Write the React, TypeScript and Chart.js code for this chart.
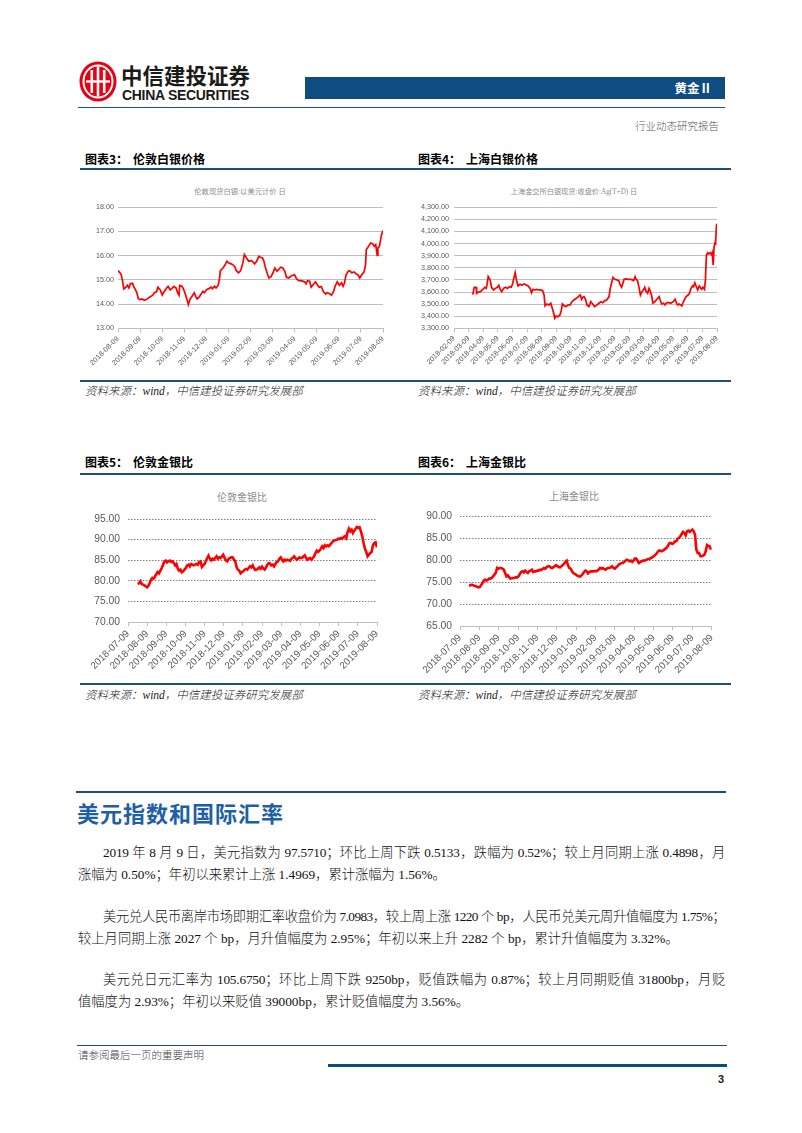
import React, { useEffect, useRef } from "react";
import { Chart, registerables } from "chart.js";

Chart.register(...registerables);

// ---------- 图表3 伦敦白银价格 (days since 2018-08-09) ----------
const ldnSilverTicks = ["2018-08-09","2018-09-09","2018-10-09","2018-11-09","2018-12-09","2019-01-09","2019-02-09","2019-03-09","2019-04-09","2019-05-09","2019-06-09","2019-07-09","2019-08-09"];
const ldnSilverDays = [0,4,6,8,11,13,15,17,20,22,24,26,28,30,33,36,39,42,45,48,50,53,55,58,61,63,67,69,72,74,77,80,82,84,85,88,90,93,95,97,99,102,105,107,109,112,114,117,119,122,125,128,130,133,135,138,140,141,144,147,150,152,155,158,161,163,166,169,172,174,177,180,183,185,188,191,194,196,199,201,203,206,208,211,214,216,219,221,224,227,230,232,235,238,241,243,246,249,252,254,257,259,261,264,266,269,272,275,277,280,283,286,288,291,294,297,299,302,305,308,310,312,314,317,319,322,325,328,331,333,336,339,341,342,345,348,351,353,355,357,358,360,363,365];
const ldnSilverPrice = [15.38,15.25,15.01,14.63,14.70,14.78,14.67,14.84,14.86,14.70,14.60,14.47,14.23,14.19,14.22,14.16,14.19,14.26,14.32,14.37,14.47,14.51,14.70,14.60,14.38,14.49,14.67,14.73,14.59,14.64,14.73,14.67,14.47,14.37,14.77,14.74,14.64,14.40,14.19,13.99,14.19,14.33,14.47,14.32,14.22,14.30,14.40,14.53,14.47,14.60,14.64,14.70,14.64,14.74,14.67,14.78,15.08,15.38,15.47,15.59,15.77,15.70,15.67,15.63,15.53,15.38,15.29,15.38,15.70,16.04,15.90,15.77,15.79,15.77,15.66,15.77,15.97,15.93,15.90,15.77,15.52,15.22,15.08,15.14,15.33,15.49,15.36,15.42,15.52,15.49,15.33,15.11,15.08,15.15,15.19,15.22,15.04,14.97,14.97,14.95,14.92,14.84,14.97,14.95,14.70,14.81,14.92,14.78,14.70,14.73,14.51,14.42,14.47,14.44,14.37,14.53,14.74,14.92,14.78,14.88,14.74,14.88,15.19,15.36,15.38,15.29,15.33,15.25,15.19,15.08,15.22,15.33,15.63,16.25,16.38,16.52,16.48,16.38,16.45,16.01,16.32,16.38,16.86,17.03];

// ---------- 图表4 上海白银价格 (days since 2018-02-09) ----------
const shSilverTicks = ["2018-02-09","2018-03-09","2018-04-09","2018-05-09","2018-06-09","2018-07-09","2018-08-09","2018-09-09","2018-10-09","2018-11-09","2018-12-09","2019-01-09","2019-02-09","2019-03-09","2019-04-09","2019-05-09","2019-06-09","2019-07-09","2019-08-09"];
const shSilverDays = [39,42,46,47,51,55,60,64,67,69,71,75,78,82,86,90,93,96,99,103,107,111,115,119,122,125,127,130,133,137,141,146,150,154,158,161,164,168,172,176,180,184,187,189,193,197,201,204,207,209,212,216,220,223,225,229,233,237,241,245,249,254,258,262,265,267,270,273,276,280,284,288,292,297,301,305,309,313,317,322,324,327,330,334,338,342,345,348,351,353,358,362,366,370,373,376,378,381,384,387,389,394,396,399,402,405,407,410,413,417,421,426,428,431,435,438,442,446,450,455,459,462,464,468,473,475,478,482,486,489,492,495,497,500,503,506,509,511,514,517,520,522,524,527,529,532,535,536,538,540,542,543,545,546];
const shSilverPrice = [3578,3639,3639,3589,3600,3603,3622,3639,3630,3672,3727,3700,3639,3617,3630,3639,3655,3622,3603,3630,3639,3630,3644,3639,3672,3727,3760,3692,3650,3664,3658,3666,3658,3650,3630,3595,3622,3617,3622,3617,3617,3611,3575,3485,3501,3493,3507,3465,3424,3383,3402,3396,3410,3452,3501,3485,3479,3493,3493,3520,3534,3548,3562,3575,3540,3556,3562,3540,3493,3479,3520,3501,3479,3493,3507,3520,3512,3529,3534,3562,3622,3672,3721,3705,3700,3694,3658,3639,3677,3705,3708,3705,3705,3700,3694,3727,3705,3694,3639,3575,3595,3622,3639,3603,3589,3630,3611,3575,3507,3520,3540,3562,3534,3501,3507,3493,3512,3512,3507,3520,3540,3507,3493,3501,3485,3507,3534,3562,3575,3589,3630,3650,3644,3677,3644,3617,3650,3639,3622,3639,3622,3700,3906,3925,3914,3925,3906,3920,3823,3975,4008,4003,4154,4162];

// ---------- 图表5 / 图表6 金银比 (evenly spaced readings, days since 2018-07-09) ----------
const ratioTicks = ["2018-07-09","2018-08-09","2018-09-09","2018-10-09","2018-11-09","2018-12-09","2019-01-09","2019-02-09","2019-03-09","2019-04-09","2019-05-09","2019-06-09","2019-07-09","2019-08-09"];
const ldnRatioStartDay = 15.4;
const ldnRatioStepDays = 2.126;
const ldnRatio = [79.22,79.39,79.87,79.22,79.06,78.90,78.66,78.42,78.74,79.47,80.28,80.68,80.52,81.09,81.65,82.14,81.81,82.46,83.11,83.92,84.73,84.89,84.48,84.73,84.89,84.56,84.73,84.32,83.75,84.08,82.95,82.46,82.70,82.06,82.30,82.70,83.11,83.75,83.92,83.51,84.08,83.92,83.75,83.92,84.08,83.92,84.56,84.73,83.35,83.75,84.08,84.73,85.53,86.10,85.37,84.97,85.37,85.13,85.53,85.94,85.37,85.70,85.53,85.94,86.34,85.53,84.97,84.73,85.29,85.53,85.70,85.70,85.13,84.73,83.27,82.70,82.46,81.81,82.14,82.30,82.70,82.87,82.70,83.11,83.51,83.27,83.75,83.11,82.62,82.70,82.95,83.27,82.95,83.43,82.95,82.70,83.27,83.92,84.32,84.16,83.75,83.92,83.51,84.08,84.56,84.73,85.37,85.70,85.13,84.73,85.13,84.89,85.13,84.97,84.89,85.37,85.53,85.94,85.53,85.13,85.37,85.70,85.53,85.53,85.94,86.18,85.53,85.13,85.37,85.53,85.13,85.53,85.94,86.75,87.31,86.99,87.31,87.80,88.37,87.96,88.61,88.37,88.61,88.37,88.77,89.18,89.58,89.74,89.90,89.98,90.23,90.15,90.39,90.23,90.55,90.79,90.39,91.84,92.65,92.01,92.41,91.60,92.17,92.65,93.06,92.82,92.98,92.01,90.79,89.18,87.80,86.99,85.94,86.34,86.75,86.99,88.61,89.18,89.34,88.12];
const shRatioStartDay = 14.2;
const shRatioStepDays = 2.104;
const shRatio = [74.19,74.27,74.42,74.27,74.19,74.04,73.96,73.81,73.89,74.27,74.80,75.33,75.56,75.33,75.56,75.79,75.79,75.94,76.32,76.70,77.08,78.22,78.07,78.22,78.22,78.07,77.84,77.08,76.32,76.55,76.09,75.79,75.86,75.94,75.94,76.09,76.09,76.32,76.85,77.31,77.46,77.23,77.61,77.31,77.08,77.46,77.61,77.84,77.31,77.46,77.46,77.61,77.61,77.84,77.76,77.99,78.22,78.07,78.37,78.60,78.60,78.37,78.22,78.37,78.60,78.83,78.68,78.45,78.37,78.60,78.83,79.13,79.59,79.89,78.83,78.22,78.07,77.46,77.08,76.85,76.70,76.47,76.32,76.24,76.47,76.85,77.31,77.61,77.46,77.00,77.31,77.46,77.46,77.46,77.54,77.46,77.61,77.84,78.22,78.07,78.22,77.99,77.84,78.07,78.22,78.22,78.37,78.60,78.22,78.07,78.37,78.60,78.98,79.13,79.36,79.36,79.59,79.89,80.12,79.97,79.74,79.89,79.59,79.89,80.35,80.35,79.89,79.36,79.59,79.74,79.89,79.89,79.97,80.12,80.27,80.27,80.50,80.65,80.88,81.11,81.41,81.87,82.17,82.17,82.02,82.17,82.40,82.63,82.93,83.39,83.92,83.92,83.69,83.92,84.30,84.30,84.91,85.06,85.44,85.97,86.43,86.20,85.67,86.58,86.73,86.43,86.73,86.96,86.58,85.82,82.40,81.64,81.64,80.88,80.88,81.03,81.26,82.02,83.46,83.24,83.16,82.40];

const SANS = '"Liberation Sans", Arial, sans-serif';
const CJK = '"Liberation Serif", "Noto Sans CJK SC", serif';
const CJKB = '"Noto Sans CJK SC", sans-serif';
const NAVY = "#1f4e79";

type ChartProps = {
  left: number; top: number; width: number; height: number;
  pad: { left: number; top: number; right: number; bottom: number };
  yWidth: number; xHeight: number; yPad: number;
  xs: number[]; ys: number[]; xMax: number; xLabels: string[];
  yMin: number; yMax: number; yStep: number; yFmt: (v: number) => string;
  yFont: number; xFont: number; lineWidth: number;
  gridDash: number[]; gridColor: string;
};

function LineChart(p: ChartProps) {
  const ref = useRef<HTMLCanvasElement>(null);
  useEffect(() => {
    const chart = new Chart(ref.current as HTMLCanvasElement, {
      type: "line",
      data: {
        datasets: [{
          data: p.xs.map((x, i) => ({ x, y: p.ys[i] })),
          borderColor: "#ff0000",
          borderWidth: p.lineWidth,
          pointRadius: 0,
          fill: false,
          tension: 0,
        }],
      },
      options: {
        animation: false,
        responsive: false,
        devicePixelRatio: 1,
        layout: { padding: p.pad },
        plugins: { legend: { display: false }, title: { display: false }, tooltip: { enabled: false } },
        scales: {
          x: {
            type: "linear",
            min: 0,
            max: p.xMax,
            afterBuildTicks: (s: any) => {
              s.ticks = p.xLabels.map((_, i) => ({ value: (i * p.xMax) / (p.xLabels.length - 1) }));
            },
            afterFit: (s: any) => {
              s.height = p.xHeight; s.paddingLeft = 0; s.paddingRight = 0;
            },
            ticks: {
              autoSkip: false, maxRotation: 45, minRotation: 45, padding: 2,
              font: { family: SANS, size: p.xFont }, color: "#595959",
              callback: (_v: any, i: number) => p.xLabels[i],
            },
            grid: { drawOnChartArea: false, drawTicks: true, tickLength: 4, color: "#bfbfbf" },
            border: { display: true, color: "#bfbfbf" },
          },
          y: {
            type: "linear",
            min: p.yMin,
            max: p.yMax,
            afterFit: (s: any) => {
              s.width = p.yWidth; s.paddingTop = 0; s.paddingBottom = 0;
            },
            ticks: {
              stepSize: p.yStep, padding: p.yPad,
              font: { family: SANS, size: p.yFont }, color: "#595959",
              callback: (v: any) => p.yFmt(Number(v)),
            },
            grid: { color: p.gridColor, lineWidth: 1, drawTicks: false },
            border: { display: false, dash: p.gridDash },
          },
        },
      },
    } as any);
    return () => chart.destroy();
  }, []);
  return (
    <canvas ref={ref} width={p.width} height={p.height}
      style={{ position: "absolute", left: p.left, top: p.top, width: p.width, height: p.height }} />
  );
}

const fmt2 = (v: number) => v.toFixed(2);
const fmtComma = (v: number) => v.toLocaleString("en-US", { minimumFractionDigits: 2, maximumFractionDigits: 2 });

function T(props: { x: number; y: number; size: number; children: React.ReactNode; style?: React.CSSProperties; right?: boolean }) {
  const { x, y, size, children, style, right } = props;
  const pos: React.CSSProperties = right ? { right: 802 - x } : { left: x };
  return (
    <div style={{ position: "absolute", top: y - size / 2, ...pos, fontSize: size, lineHeight: `${size}px`, whiteSpace: "nowrap", ...style }}>
      {children}
    </div>
  );
}

function Line(props: { x: number; y: number; w: number; h: number; c?: string }) {
  return <div style={{ position: "absolute", left: props.x, top: props.y, width: props.w, height: props.h, background: props.c || NAVY }} />;
}

function JLine(props: { x: number; y: number; right: number; text: string; justify?: boolean; ls?: number }) {
  return (
    <div style={{
      position: "absolute", left: props.x, top: props.y - 9, width: props.right - props.x,
      fontSize: 13.3, lineHeight: "18px", fontFamily: CJK, fontWeight: 300, color: "#111",
      whiteSpace: "nowrap", textAlign: props.justify ? "justify" : "left",
      textAlignLast: props.justify ? "justify" : "auto", letterSpacing: props.ls || 0,
    } as React.CSSProperties}>{props.text}</div>
  );
}

const SOURCE = "资料来源：wind，中信建投证券研究发展部";

function Section(props: { x: number; y: number; num: string; name: string }) {
  return (
    <>
      <T x={props.x} y={props.y} size={12} style={{ fontFamily: CJKB, fontWeight: 700, color: "#000" }}>{`图表${props.num}：`}</T>
      <T x={props.x + 48} y={props.y} size={12} style={{ fontFamily: CJKB, fontWeight: 700, color: "#000" }}>{props.name}</T>
    </>
  );
}

export default function App() {
  return (
    <div style={{ position: "absolute", left: 0, top: 0, width: 802, height: 1133, background: "#fff", overflow: "hidden" }}>
      {/* header */}
      <svg width={38} height={41} viewBox="0 0 38 41" style={{ position: "absolute", left: 79, top: 61 }}>
        <ellipse cx={19} cy={20.5} rx={18.5} ry={20} fill="#e60012" />
        <ellipse cx={19} cy={20.5} rx={14.5} ry={16} fill="none" stroke="#fff" strokeWidth={2} />
        <rect x={11.5} y={9} width={2.6} height={23} fill="#fff" />
        <rect x={17.7} y={5.5} width={2.6} height={30} fill="#fff" />
        <rect x={23.9} y={9} width={2.6} height={23} fill="#fff" />
        <rect x={7} y={19.3} width={24} height={2.4} fill="#fff" />
      </svg>
      <T x={121} y={75} size={21.5} style={{ fontFamily: CJKB, fontWeight: 700, color: "#1a1a1a" }}>中信建投证券</T>
      <T x={122} y={94.5} size={14} style={{ fontFamily: SANS, fontWeight: 700, color: "#1a1a1a", letterSpacing: -0.3 }}>CHINA SECURITIES</T>
      <div style={{ position: "absolute", left: 305, top: 77, width: 420, height: 22, background: "#0f4c81" }} />
      <T x={712} y={88} size={12.5} right style={{ fontFamily: CJKB, fontWeight: 700, color: "#fff" }}>黄金Ⅱ</T>
      <Line x={78} y={106.5} w={647} h={1.5} />
      <T x={719} y={127} size={10.5} right style={{ fontFamily: CJK, fontWeight: 300, color: "#555" }}>行业动态研究报告</T>

      {/* row 1 */}
      <Section x={85} y={159} num="3" name="伦敦白银价格" />
      <Section x={418} y={159} num="4" name="上海白银价格" />
      <Line x={80} y={168} w={651} h={2} />
      <T x={240} y={191.5} size={7.3} style={{ fontFamily: CJK, color: "#8c8c8c", transform: "translateX(-50%)" }}>伦敦现货白银:以美元计价 日</T>
      <T x={574} y={192.5} size={7.2} style={{ fontFamily: CJK, color: "#8c8c8c", transform: "translateX(-50%)" }}>上海金交所白银现货:收盘价:Ag(T+D) 日</T>
      <LineChart left={78} top={200} width={322} height={172}
        pad={{ left: 0, top: 7, right: 17, bottom: 0 }} yWidth={40} xHeight={43.5} yPad={4}
        xs={ldnSilverDays} ys={ldnSilverPrice} xMax={365} xLabels={ldnSilverTicks}
        yMin={13} yMax={18} yStep={1} yFmt={fmt2} yFont={7.2} xFont={7.4} lineWidth={1.7}
        gridDash={[]} gridColor="#bfbfbf" />
      <LineChart left={400} top={200} width={330} height={172}
        pad={{ left: 0, top: 7.3, right: 13, bottom: 0 }} yWidth={54} xHeight={43.7} yPad={5}
        xs={shSilverDays} ys={shSilverPrice} xMax={546} xLabels={shSilverTicks}
        yMin={3300} yMax={4300} yStep={100} yFmt={fmtComma} yFont={7.2} xFont={7.2} lineWidth={1.7}
        gridDash={[]} gridColor="#bfbfbf" />
      <Line x={80} y={380} w={651} h={1.5} />
      <T x={85} y={392} size={11.5} style={{ fontFamily: CJK, fontStyle: "italic", fontWeight: 300, color: "#222" }}>{SOURCE}</T>
      <T x={418} y={392} size={11.5} style={{ fontFamily: CJK, fontStyle: "italic", fontWeight: 300, color: "#222" }}>{SOURCE}</T>

      {/* row 2 */}
      <Section x={85} y={462} num="5" name="伦敦金银比" />
      <Section x={418} y={462} num="6" name="上海金银比" />
      <Line x={80} y={473} w={651} h={2} />
      <T x={242} y={498} size={10} style={{ fontFamily: CJK, color: "#8c8c8c", transform: "translateX(-50%)" }}>伦敦金银比</T>
      <T x={574} y={497} size={10} style={{ fontFamily: CJK, color: "#8c8c8c", transform: "translateX(-50%)" }}>上海金银比</T>
      <LineChart left={78} top={505} width={322} height={172}
        pad={{ left: 0, top: 14, right: 23, bottom: 0 }} yWidth={50} xHeight={55} yPad={8}
        xs={ldnRatio.map((_, i) => ldnRatioStartDay + i * ldnRatioStepDays)} ys={ldnRatio} xMax={396} xLabels={ratioTicks}
        yMin={70} yMax={95} yStep={5} yFmt={fmt2} yFont={10.3} xFont={9.8} lineWidth={2.6}
        gridDash={[1.5, 1.5]} gridColor="#7f7f7f" />
      <LineChart left={400} top={505} width={330} height={172}
        pad={{ left: 0, top: 11.3, right: 18.3, bottom: 0 }} yWidth={60} xHeight={51} yPad={8}
        xs={shRatio.map((_, i) => shRatioStartDay + i * shRatioStepDays)} ys={shRatio} xMax={396} xLabels={ratioTicks}
        yMin={65} yMax={90} yStep={5} yFmt={fmt2} yFont={10.3} xFont={9.8} lineWidth={2.6}
        gridDash={[1.5, 1.5]} gridColor="#7f7f7f" />
      <Line x={80} y={683} w={651} h={1.5} />
      <T x={85} y={696} size={11.5} style={{ fontFamily: CJK, fontStyle: "italic", fontWeight: 300, color: "#222" }}>{SOURCE}</T>
      <T x={418} y={696} size={11.5} style={{ fontFamily: CJK, fontStyle: "italic", fontWeight: 300, color: "#222" }}>{SOURCE}</T>

      {/* text section */}
      <Line x={76} y={791} w={650} h={1.5} />
      <T x={77} y={812} size={22} style={{ fontFamily: CJKB, fontWeight: 700, color: "#1f5fa5", letterSpacing: 1 }}>美元指数和国际汇率</T>
      <JLine x={103} y={853} right={725} justify ls={-0.2} text="2019 年 8 月 9 日，美元指数为 97.5710；环比上周下跌 0.5133，跌幅为 0.52%；较上月同期上涨 0.4898，月" />
      <JLine x={78} y={875} right={725} text="涨幅为 0.50%；年初以来累计上涨 1.4969，累计涨幅为 1.56%。" />
      <JLine x={103} y={917} right={725} justify ls={-0.6} text="美元兑人民币离岸市场即期汇率收盘价为 7.0983，较上周上涨 1220 个 bp，人民币兑美元周升值幅度为 1.75%；" />
      <JLine x={78} y={939} right={725} text="较上月同期上涨 2027 个 bp，月升值幅度为 2.95%；年初以来上升 2282 个 bp，累计升值幅度为 3.32%。" />
      <JLine x={103} y={980} right={725} justify ls={-0.2} text="美元兑日元汇率为 105.6750；环比上周下跌 9250bp，贬值跌幅为 0.87%；较上月同期贬值 31800bp，月贬" />
      <JLine x={78} y={1002} right={725} text="值幅度为 2.93%；年初以来贬值 39000bp，累计贬值幅度为 3.56%。" />

      {/* footer */}
      <Line x={77} y={1045} w={650} h={1} />
      <T x={78} y={1056} size={10.5} style={{ fontFamily: CJK, fontWeight: 300, color: "#444" }}>请参阅最后一页的重要声明</T>
      <Line x={328} y={1064} w={399} h={3} c="#0f4c81" />
      <T x={724} y={1079} size={11} right style={{ fontFamily: SANS, fontWeight: 700, color: "#222" }}>3</T>
    </div>
  );
}
